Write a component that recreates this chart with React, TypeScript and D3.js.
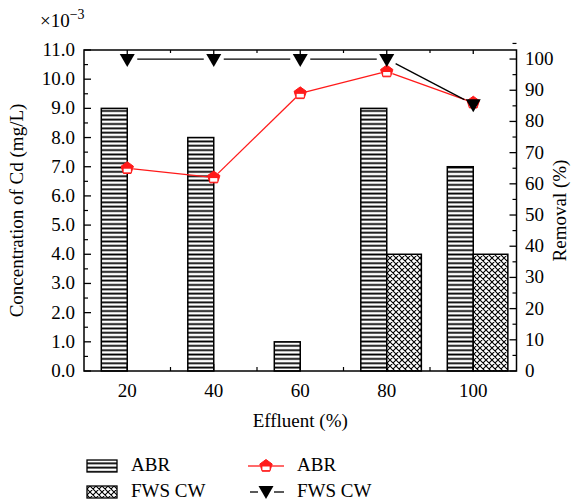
import React from "react";
import * as d3 from "d3";

const categories = [20, 40, 60, 80, 100];
const abrConc = [9.0, 8.0, 1.0, 9.0, 7.0];
const fwsConc = [0, 0, 0, 4.0, 4.0];
const abrRemoval = [65, 62, 89, 96, 86];
const fwsRemoval = [100, 100, 100, 100, 85.5];
const leftTicks = d3.range(0, 11.01, 1);
const rightTicks = d3.range(0, 100.1, 10);

const W = 582, H = 504;
const FONT = "'Liberation Serif', 'Times New Roman', serif";

const x = d3.scaleLinear().domain([10, 110]).range([84, 516.5]);
const yL = d3.scaleLinear().domain([0, 11]).range([371, 50]);
const yR = d3.scaleLinear().domain([0, 102.9]).range([371, 50]);

const ABR_W = 6;
const FWS_W = 8;
const RED = "#ff1a1a";

function pentagon(cx: number, cy: number, r: number) {
  const pts = d3.range(5).map((i) => {
    const a = ((-90 + i * 72) * Math.PI) / 180;
    return [cx + r * Math.cos(a), cy + r * Math.sin(a)];
  });
  return "M" + pts.map((p) => p.join(",")).join("L") + "Z";
}

function RedMarker({ cx, cy }: { cx: number; cy: number }) {
  return (
    <g>
      <path d={pentagon(cx, cy, 6.5)} fill={RED} stroke={RED} strokeWidth={1} />
      <rect x={cx - 3.6} y={cy + 0.5} width={7.2} height={3.6} fill="#fff" />
    </g>
  );
}

function Tri({ cx, cy }: { cx: number; cy: number }) {
  return <path d={`M${cx - 7.5},${cy - 6}L${cx + 7.5},${cy - 6}L${cx},${cy + 7}Z`} fill="#000" />;
}

function gappedSegments(pts: [number, number][], gap: number) {
  const segs: [number, number, number, number][] = [];
  for (let i = 0; i < pts.length - 1; i++) {
    const [x1, y1] = pts[i];
    const [x2, y2] = pts[i + 1];
    const dx = x2 - x1, dy = y2 - y1;
    const len = Math.hypot(dx, dy);
    const ux = dx / len, uy = dy / len;
    segs.push([x1 + ux * gap, y1 + uy * gap, x2 - ux * gap, y2 - uy * gap]);
  }
  return segs;
}

export default function App() {
  const redPts: [number, number][] = categories.map((c, i) => [x(c), yR(abrRemoval[i])]);
  const blkPts: [number, number][] = categories.map((c, i) => [x(c), yR(fwsRemoval[i])]);
  const minorX = categories.slice(0, -1).map((c) => c + 10);
  const left = 84, right = 516.5, top = 50, bottom = 371;
  return (
    <svg width={W} height={H} style={{ position: "absolute", left: 0, top: 0, fontFamily: FONT }}>
      <defs>
        <pattern id="hlines" patternUnits="userSpaceOnUse" width={8} height={4.35}>
          <rect width={8} height={4.35} fill="#fff" />
          <line x1={0} x2={8} y1={2.2} y2={2.2} stroke="#000" strokeWidth={1.8} />
        </pattern>
        <pattern id="cross" patternUnits="userSpaceOnUse" width={6} height={6}>
          <rect width={6} height={6} fill="#fff" />
          <path d="M0,0L6,6M6,0L0,6M-1,5L1,7M5,-1L7,1M-1,1L1,-1M5,7L7,5" stroke="#000" strokeWidth={1.1} />
        </pattern>
      </defs>

      {categories.map((c, i) => (
        <rect key={"a" + c} x={x(c - ABR_W)} y={yL(abrConc[i])} width={x(c) - x(c - ABR_W)}
          height={yL(0) - yL(abrConc[i])} fill="url(#hlines)" stroke="#000" strokeWidth={1.5} />
      ))}
      {categories.map((c, i) =>
        fwsConc[i] > 0 ? (
          <rect key={"f" + c} x={x(c)} y={yL(fwsConc[i])} width={x(c + FWS_W) - x(c)}
            height={yL(0) - yL(fwsConc[i])} fill="url(#cross)" stroke="#000" strokeWidth={1.5} />
        ) : null
      )}

      <rect x={left} y={top} width={right - left} height={bottom - top} fill="none" stroke="#000" strokeWidth={1.5} />

      {leftTicks.map((t) => (
        <g key={"lt" + t}>
          <line x1={left} x2={left + 7} y1={yL(t)} y2={yL(t)} stroke="#000" strokeWidth={1.3} />
          <text x={75} y={yL(t) + 6} fontSize={19} textAnchor="end">{t.toFixed(1)}</text>
        </g>
      ))}
      {leftTicks.slice(0, -1).map((t) => (
        <line key={"lm" + t} x1={left} x2={left + 4} y1={yL(t + 0.5)} y2={yL(t + 0.5)} stroke="#000" strokeWidth={1.2} />
      ))}
      {rightTicks.map((t) => (
        <g key={"rt" + t}>
          <line x1={right} x2={right - 7} y1={yR(t)} y2={yR(t)} stroke="#000" strokeWidth={1.3} />
          <text x={525} y={yR(t) + 6} fontSize={19} textAnchor="start">{t}</text>
        </g>
      ))}
      {rightTicks.map((t) => (
        <line key={"rm" + t} x1={right} x2={right - 4} y1={yR(t + 5)} y2={yR(t + 5)} stroke="#000" strokeWidth={1.2} />
      ))}
      {categories.map((c) => (
        <g key={"bt" + c}>
          <line x1={x(c)} x2={x(c)} y1={bottom} y2={bottom - 7} stroke="#000" strokeWidth={1.3} />
          <line x1={x(c)} x2={x(c)} y1={top} y2={top + 4} stroke="#000" strokeWidth={1.3} />
          <text x={x(c)} y={397} fontSize={19} textAnchor="middle">{c}</text>
        </g>
      ))}
      {minorX.map((c) => (
        <g key={"bm" + c}>
          <line x1={x(c)} x2={x(c)} y1={bottom} y2={bottom - 4} stroke="#000" strokeWidth={1.2} />
          <line x1={x(c)} x2={x(c)} y1={top} y2={top + 3} stroke="#000" strokeWidth={1.2} />
        </g>
      ))}

      {gappedSegments(redPts, 6).map((s, i) => (
        <line key={"rs" + i} x1={s[0]} y1={s[1]} x2={s[2]} y2={s[3]} stroke={RED} strokeWidth={1.3} />
      ))}
      {gappedSegments(blkPts, 10).map((s, i) => (
        <line key={"bs" + i} x1={s[0]} y1={s[1]} x2={s[2]} y2={s[3]} stroke="#000" strokeWidth={1.3} />
      ))}
      {redPts.map((p, i) => <RedMarker key={"rm" + i} cx={p[0]} cy={p[1]} />)}
      {blkPts.map((p, i) => <Tri key={"tr" + i} cx={p[0]} cy={p[1] + 1} />)}

      <text x={40} y={27} fontSize={19}>
        ×10<tspan dy={-8} fontSize={14}>−3</tspan>
      </text>

      <text transform={`translate(23,${(top + bottom) / 2}) rotate(-90)`} fontSize={19} textAnchor="middle">
        Concentration of Cd (mg/L)
      </text>
      <text transform={`translate(566,${(top + bottom) / 2}) rotate(-90)`} fontSize={19} textAnchor="middle">
        Removal (%)
      </text>
      <text x={(left + right) / 2} y={427} fontSize={19} textAnchor="middle">Effluent (%)</text>

      <rect x={87} y={460} width={30} height={12} fill="url(#hlines)" stroke="#000" strokeWidth={1.3} />
      <text x={131} y={471} fontSize={19}>ABR</text>
      <rect x={87} y={486} width={30} height={12} fill="url(#cross)" stroke="#000" strokeWidth={1.3} />
      <text x={131} y={497} fontSize={19}>FWS CW</text>

      <line x1={248} x2={260} y1={466} y2={466} stroke={RED} strokeWidth={1.3} />
      <line x1={272} x2={284} y1={466} y2={466} stroke={RED} strokeWidth={1.3} />
      <RedMarker cx={266} cy={466} />
      <text x={297} y={471} fontSize={19}>ABR</text>
      <line x1={250} x2={258} y1={492} y2={492} stroke="#000" strokeWidth={1.3} />
      <line x1={274} x2={284} y1={492} y2={492} stroke="#000" strokeWidth={1.3} />
      <Tri cx={266} cy={492} />
      <text x={297} y={497} fontSize={19}>FWS CW</text>
    </svg>
  );
}
